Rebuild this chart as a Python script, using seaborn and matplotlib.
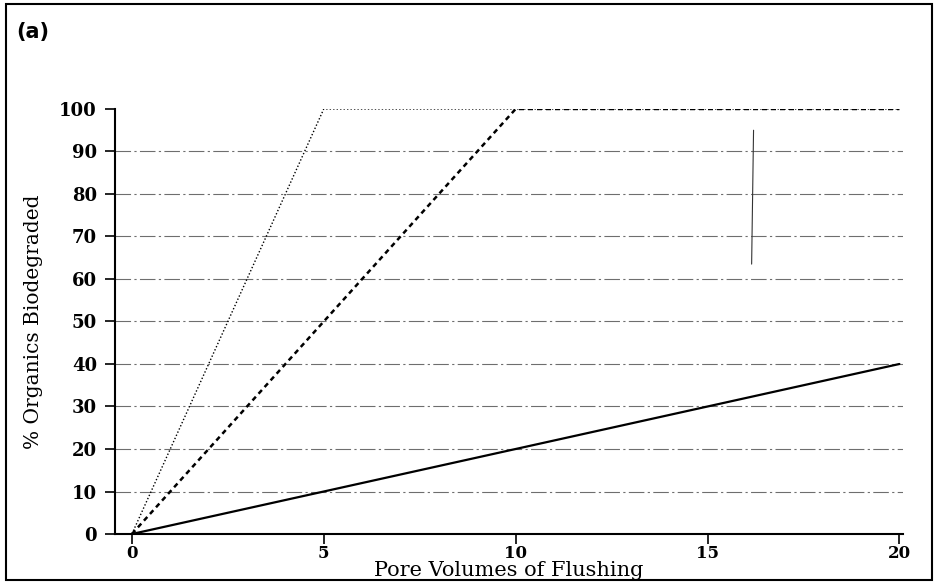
import matplotlib
matplotlib.use("Agg")
import matplotlib.pyplot as plt
import seaborn as sns
import pandas as pd
from matplotlib.patches import Rectangle

# Breakpoints of each biodegradation curve (pore volumes, % degraded)
fast_x = [0, 5, 20]
fast_y = [0, 100, 100]
mid_x = [0, 10, 20]
mid_y = [0, 100, 100]
slow_x = [0, 20]
slow_y = [0, 40]

x_ticks = [0, 5, 10, 15, 20]
y_ticks = [0, 10, 20, 30, 40, 50, 60, 70, 80, 90, 100]

sns.set_theme(style="white")
plt.rcParams["font.family"] = ["DejaVu Serif"]
plt.rcParams["text.color"] = "black"
plt.rcParams["axes.labelcolor"] = "black"
plt.rcParams["xtick.color"] = "black"
plt.rcParams["ytick.color"] = "black"

fig = plt.figure(figsize=(9.35, 5.84), dpi=100)
ax = fig.add_axes([0.123, 0.0856, 0.843, 0.7278])

# horizontal dash-dot grid
for yv in y_ticks[1:-1]:
    ax.axhline(yv, color="#6e6e6e", lw=0.8, ls=(0, (14, 3, 2, 3)), zorder=1)

df_fast = pd.DataFrame({"x": fast_x, "y": fast_y})
df_mid = pd.DataFrame({"x": mid_x, "y": mid_y})
df_slow = pd.DataFrame({"x": slow_x, "y": slow_y})

sns.lineplot(data=df_fast, x="x", y="y", ax=ax, color="black", lw=1.0,
             linestyle=(0, (1, 1.5)), zorder=3)
sns.lineplot(data=df_mid, x="x", y="y", ax=ax, color="black", lw=1.8,
             linestyle=(0, (2.0, 1.6)), zorder=3)
sns.lineplot(data=df_slow, x="x", y="y", ax=ax, color="black", lw=1.6,
             linestyle="-", zorder=3)

# stray vertical stroke in the upper right
ax.plot([16.2, 16.15], [95, 63.5], color="#333333", lw=0.8, zorder=2)

ax.set_xlim(-0.44, 20.1)
ax.set_ylim(0, 100)
ax.set_xticks(x_ticks)
ax.set_yticks(y_ticks)
ax.set_xticklabels([str(v) for v in x_ticks], fontsize=12, fontweight="bold")
ax.set_yticklabels([str(v) for v in y_ticks], fontsize=13, fontweight="bold")
ax.tick_params(axis="both", direction="out", length=7, width=1.2,
               color="black", bottom=True, left=True)
ax.tick_params(axis="x", pad=1)
ax.tick_params(axis="y", pad=6)

for side in ["top", "right"]:
    ax.spines[side].set_visible(False)
for side in ["left", "bottom"]:
    ax.spines[side].set_color("black")
    ax.spines[side].set_linewidth(1.5)

ax.set_xlabel("Pore Volumes of Flushing", fontsize=15, labelpad=-1)
ax.set_ylabel("% Organics Biodegraded", fontsize=14.5, labelpad=12)

fig.text(0.017, 0.945, "(a)", fontsize=15, fontweight="bold",
         family="DejaVu Sans", ha="left", va="center", color="black")

# outer frame around the panel
fig.patches.append(Rectangle((0.006, 0.006), 0.991, 0.988,
                             transform=fig.transFigure, fill=False,
                             edgecolor="black", lw=1.5))

fig.savefig("out.png", dpi=100)
